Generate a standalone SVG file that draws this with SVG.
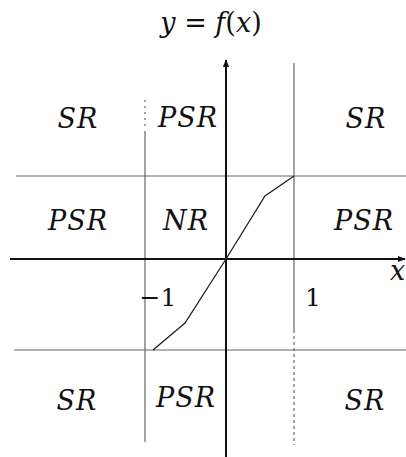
<svg xmlns="http://www.w3.org/2000/svg" width="406" height="457" viewBox="0 0 406 457">
<defs>
<marker id="ah" viewBox="0 0 10 10" refX="9" refY="5" markerWidth="8" markerHeight="8" markerUnits="userSpaceOnUse" orient="auto">
<path d="M0,1 L10,5 L0,9 Z" fill="#111"/>
</marker>
<style>
.grid{stroke:#666;stroke-width:1.2;fill:none}
.axis{stroke:#111;stroke-width:2;fill:none}
.curve{stroke:#222;stroke-width:1.3;fill:none}
text{font-family:'DejaVu Serif','Liberation Serif',serif;fill:#111}
.lbl{font-style:italic;font-size:27px;text-anchor:middle;letter-spacing:1px}
.num{font-size:25px;text-anchor:middle}
.ttl{font-size:27px;text-anchor:middle}
</style>
</defs>
<g id="connectors">
<line class="grid" x1="16" y1="176" x2="406" y2="176"/>
<line class="grid" x1="14" y1="350" x2="406" y2="350"/>
<line class="grid" x1="145" y1="100" x2="145" y2="130" stroke="#aaa" stroke-dasharray="2,4"/>
<line class="grid" x1="145" y1="131" x2="145" y2="442"/>
<line class="grid" x1="294" y1="63" x2="294" y2="330"/>
<line class="grid" x1="294" y1="330" x2="294" y2="445" stroke="#aaa" stroke-dasharray="3,3"/>
<line class="axis" x1="10" y1="259" x2="405" y2="259" marker-end="url(#ah)"/>
<line class="axis" x1="226" y1="457" x2="226" y2="60" marker-end="url(#ah)"/>
<polyline class="curve" points="153,350 185,323 226,259 265,196 294,176"/>
</g>
<g id="title"><text class="ttl" x="211" y="32"><tspan font-style="italic">y</tspan> = <tspan font-style="italic">f</tspan>(<tspan font-style="italic">x</tspan>)</text></g>
<g id="r1c1"><text class="lbl" x="78" y="128">SR</text></g>
<g id="r1c2"><text class="lbl" x="188" y="127">PSR</text></g>
<g id="r1c3"><text class="lbl" x="366" y="128">SR</text></g>
<g id="r2c1"><text class="lbl" x="78" y="230">PSR</text></g>
<g id="r2c2"><text class="lbl" x="186" y="230">NR</text></g>
<g id="r2c3"><text class="lbl" x="364" y="230">PSR</text></g>
<g id="r3c1"><text class="lbl" x="77" y="410">SR</text></g>
<g id="r3c2"><text class="lbl" x="186" y="407">PSR</text></g>
<g id="r3c3"><text class="lbl" x="365" y="410">SR</text></g>
<g id="minus1"><text class="num" x="158" y="306">−1</text></g>
<g id="one"><text class="num" x="313" y="306">1</text></g>
<g id="xlabel"><text class="lbl" x="398" y="280">x</text></g>
</svg>
